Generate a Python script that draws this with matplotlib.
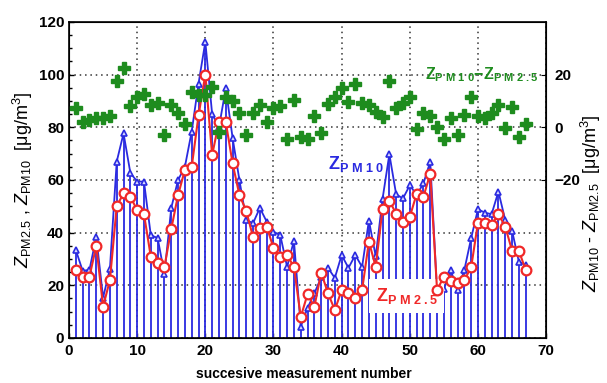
import matplotlib
matplotlib.use('Agg')
import matplotlib.pyplot as plt
from matplotlib.ticker import MultipleLocator, AutoMinorLocator
import numpy as np

plt.rcParams['font.family'] = ['Liberation Sans', 'DejaVu Sans']
plt.rcParams['mathtext.fontset'] = 'custom'
plt.rcParams['mathtext.rm'] = 'Liberation Sans'
plt.rcParams['mathtext.it'] = 'Liberation Sans:italic'
plt.rcParams['mathtext.bf'] = 'Liberation Sans:bold'

# Colors
BLUE = '#2a2ae0'
RED = '#f02828'
GREEN = '#1e8c1e'

# --- data ---
meas = list(range(1, 68))
pm10 = [33.4, 25.5, 25.9, 38.4, 15.3, 26.3, 67, 77.7, 62.7, 59.4,
        59.4, 39, 38, 24.3, 49.4, 60, 65, 78.4, 96.6, 112.5,
        85, 80, 94.8, 76, 60, 44.8, 43.6, 49.4, 44.2, 40.4,
        39, 27, 37, 4.3, 11.4, 17, 23, 26.6, 22.8, 31.5,
        26.6, 31.5, 27, 44.6, 31, 52.8, 69.8, 54.5, 53, 58,
        54.3, 58.7, 67, 17.6, 18.5, 25.8, 18.2, 25.8, 37.9, 48.9,
        47.6, 47, 55.6, 44.8, 40.8, 29, 27.7]
pm25 = [25.8, 23.3, 23.3, 35, 11.9, 22, 50, 55, 53.6, 48.6,
        47, 30.9, 28.4, 27, 41.4, 54.3, 63.8, 65, 84.5, 100,
        69.5, 82, 82, 66.3, 54.3, 48.3, 38.3, 41.8, 42.3, 34.2,
        30.9, 31.5, 27, 8, 16.7, 11.9, 24.8, 17, 10.6, 18.2,
        17, 15.2, 18.2, 36.6, 27, 49, 52.1, 47.2, 44.2, 46,
        54.7, 53.7, 62.3, 18.2, 23.3, 21.8, 21, 22, 26.8, 43.8,
        43.8, 42.9, 47.1, 42.3, 33.2, 33.2, 25.8]
diff = [7.2, 2.2, 2.6, 3.4, 3.4, 4.3, 17.6, 22.4, 8.1, 11.4,
        12.7, 8.5, 9.4, -2.9, 8.5, 5.3, 1.3, 13.6, 12.3, 12.3,
        15.5, -1.9, 11.7, 10, 5.6, -2.9, 5.6, 8.5, 2.2, 7.2,
        8.1, -4.6, 10.4, -3.5, -4.6, 4.3, -2, 9, 11.5, 15,
        9.7, 16.5, 9.1, 8.5, 6, 3.8, 17.7, 7.2, 9.4, 11.4,
        -0.7, 5.6, 4.3, 0.3, -4.6, 3.4, -2.9, 4.6, 11.4, 4.3,
        3.4, 5.3, 8.5, -0.3, 7.7, -3.5, 1.3]

fig = plt.figure(figsize=(6.07, 3.83), dpi=100, facecolor='white')
ax = fig.add_axes([0.1137, 0.1175, 0.786, 0.8251])

# stems + PM10
ax.vlines(meas, 0, pm10, color=BLUE, linewidth=1.3, zorder=2)
ax.plot(meas, pm10, color=BLUE, linewidth=1.3, marker='^', markersize=5,
        markerfacecolor='#d8d8ff', markeredgecolor=BLUE, markeredgewidth=1.2, zorder=3)
# PM2.5
ax.plot(meas, pm25, color=RED, linewidth=1.5, marker='o', markersize=7,
        markerfacecolor='white', markeredgecolor=RED, markeredgewidth=1.6, zorder=4)

ax.set_xlim(0, 70)
ax.set_ylim(0, 120)
ax.xaxis.set_major_locator(MultipleLocator(10))
ax.yaxis.set_major_locator(MultipleLocator(20))
ax.yaxis.set_minor_locator(AutoMinorLocator(4))
ax.tick_params(axis='both', which='both', direction='in', labelsize=11, width=1)
ax.tick_params(axis='y', which='minor', length=2, left=True)
ax.tick_params(axis='x', pad=4)
for lab in ax.get_xticklabels() + ax.get_yticklabels():
    lab.set_fontweight('bold')
ax.grid(True, linestyle=(0, (1, 2.5)), color='#333333', linewidth=1.1)
ax.set_axisbelow(True)
for sp in ax.spines.values():
    sp.set_linewidth(1.2)

# right axis: difference
ax2 = ax.twinx()
ax2.plot(meas, diff, linestyle='none', marker='P', markersize=8,
         color=GREEN, markeredgecolor=GREEN, zorder=5)
ax2.set_ylim(-80, 40)
ax2.set_yticks([-20, 0, 20])
ax2.tick_params(axis='y', direction='in', labelsize=11, pad=6)
for lab in ax2.get_yticklabels():
    lab.set_fontweight('bold')

# annotations
ax.text(38, 66, r'$\mathbf{Z}_{\mathbf{P\ M\ 1\ 0}}$', color=BLUE, fontsize=13,
        va='center', ha='left', zorder=6)
ax.text(52.3, 100, r'$\mathbf{Z}_{\mathbf{P\ M\ 1\ 0}}\mathbf{-Z}_{\mathbf{P\ M\ 2\ .5}}$',
        color=GREEN, fontsize=11.5, va='center', ha='left', zorder=6)
ax.text(45, 16, r'$\mathbf{Z}_{\mathbf{P\ M\ 2\ .5}}$', color=RED, fontsize=13,
        va='center', ha='left', zorder=3.5,
        bbox=dict(facecolor='white', edgecolor='none', pad=5))

# axis labels
fig.text(0.038, 0.53, r'$Z_{\rm PM2.5}$ , $Z_{\rm PM10}$  [μg/m$^3$]', rotation=90,
         fontsize=13, ha='center', va='center')
fig.text(0.974, 0.47, r'$Z_{\rm PM10}$ - $Z_{\rm PM2.5}$  [μg/m$^3$]', rotation=90,
         fontsize=13, ha='center', va='center')
fig.text(0.5, 0.004, 'succesive measurement number', fontsize=10, fontweight='bold',
         ha='center', va='bottom')

fig.savefig('out.png', dpi=100, facecolor='white')
plt.close()
